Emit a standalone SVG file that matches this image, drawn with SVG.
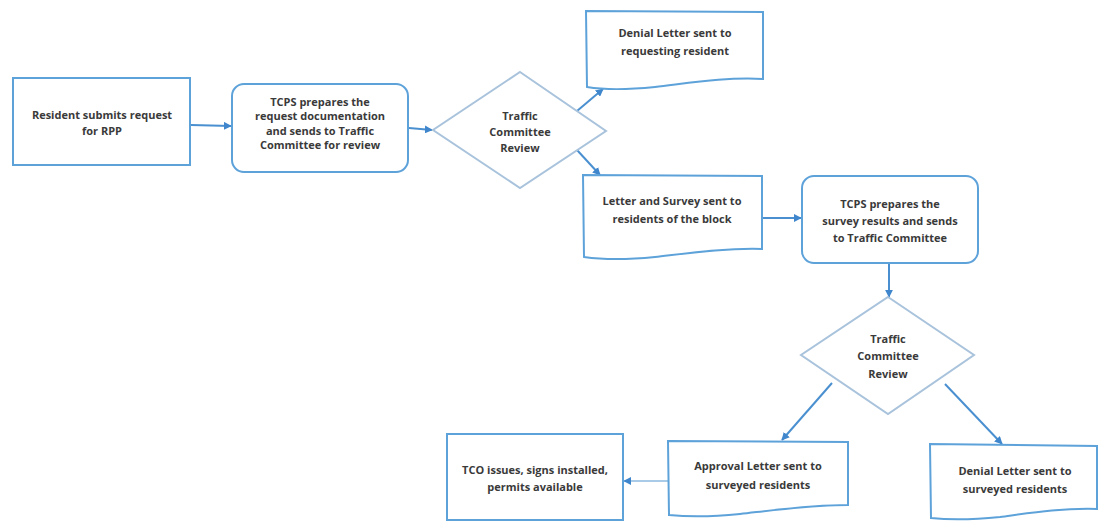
<svg xmlns="http://www.w3.org/2000/svg" width="1098" height="525" viewBox="0 0 1098 525">
<defs>
<style>
.box{fill:#fff;stroke:#5ea2da;stroke-width:2}
.dia{fill:#fff;stroke:#a9c3dc;stroke-width:2}
.edge{fill:none;stroke:#4a90d0;stroke-width:2}
.faint{stroke:#a9cbe8}
text{font-family:"Open Sans","Liberation Sans",sans-serif;font-size:11px;font-weight:bold;fill:#3a3a3a;text-anchor:middle}
</style>
<marker id="arr" viewBox="0 0 10 10" refX="9" refY="5" markerWidth="4" markerHeight="4" orient="auto" markerUnits="strokeWidth">
<path d="M0,0 L10,5 L0,10 Z" fill="#3f86cc"/>
</marker>
</defs>
<rect width="1098" height="525" fill="#fff"/>
<g id="connectors">
<line class="edge" x1="191" y1="125" x2="231" y2="126" marker-end="url(#arr)"/>
<line class="edge" x1="409" y1="128" x2="432" y2="130" marker-end="url(#arr)"/>
<line class="edge" x1="577" y1="111" x2="603" y2="89" marker-end="url(#arr)"/>
<line class="edge" x1="577" y1="150" x2="600" y2="175" marker-end="url(#arr)"/>
<line class="edge" x1="762" y1="218" x2="801" y2="218" marker-end="url(#arr)"/>
<line class="edge" x1="889" y1="263" x2="889" y2="297" marker-end="url(#arr)"/>
<line class="edge" x1="832" y1="383" x2="782" y2="440" marker-end="url(#arr)"/>
<line class="edge" x1="945" y1="384" x2="1002" y2="444" marker-end="url(#arr)"/>
<line class="edge faint" x1="668" y1="481" x2="624" y2="481" marker-end="url(#arr)"/>
</g>
<g id="n1">
<rect class="box" x="13" y="78" width="177" height="87"/>
<text x="102" y="119">Resident submits request</text>
<text x="102" y="135">for RPP</text>
</g>
<g id="n2">
<rect class="box" x="232" y="84" width="176" height="88" rx="12"/>
<text x="320" y="106">TCPS prepares the</text>
<text x="320" y="120">request documentation</text>
<text x="320" y="135">and sends to Traffic</text>
<text x="320" y="149">Committee for review</text>
</g>
<g id="d1">
<polygon class="dia" points="520,72 606,131 520,188 433,130"/>
<text x="520" y="120">Traffic</text>
<text x="520" y="136">Committee</text>
<text x="520" y="152">Review</text>
</g>
<g id="n3">
<path class="box" d="M586,11 L763,12 L763,79 C725,77 690,83 655,87 C625,90 605,90 587,87 Z"/>
<text x="675" y="37">Denial Letter sent to</text>
<text x="675" y="55">requesting resident</text>
</g>
<g id="n4">
<path class="box" d="M583,175 L762,176 L762,249 C725,248 690,253 655,257 C625,260 605,260 584,257 Z"/>
<text x="672" y="205">Letter and Survey sent to</text>
<text x="672" y="223">residents of the block</text>
</g>
<g id="n5">
<rect class="box" x="802" y="176" width="176" height="87" rx="12"/>
<text x="890" y="208">TCPS prepares the</text>
<text x="890" y="225">survey results and sends</text>
<text x="890" y="242">to Traffic Committee</text>
</g>
<g id="d2">
<polygon class="dia" points="888,297 974,355 888,414 801,355"/>
<text x="888" y="343">Traffic</text>
<text x="888" y="360">Committee</text>
<text x="888" y="378">Review</text>
</g>
<g id="n6">
<rect class="box" x="447" y="434" width="176" height="86"/>
<text x="535" y="474">TCO issues, signs installed,</text>
<text x="535" y="491">permits available</text>
</g>
<g id="n7">
<path class="box" d="M668,441 L848,442 L848,505 C810,505 775,510 740,514 C710,517 690,517 669,515 Z"/>
<text x="758" y="470">Approval Letter sent to</text>
<text x="758" y="489">surveyed residents</text>
</g>
<g id="n8">
<path class="box" d="M930,444 L1097,446 L1097,509 C1060,508 1030,513 1000,517 C970,520 950,520 931,518 Z"/>
<text x="1015" y="475">Denial Letter sent to</text>
<text x="1015" y="493">surveyed residents</text>
</g>
</svg>
